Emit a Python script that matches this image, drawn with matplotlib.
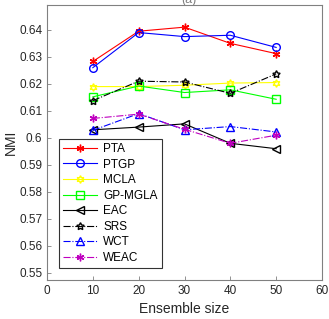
import matplotlib
matplotlib.use("Agg")
import matplotlib.pyplot as plt

plt.rcParams['font.family'] = ['Liberation Sans', 'DejaVu Sans']

sizes = [10, 20, 30, 40, 50]
pta = [0.6283, 0.6395, 0.641, 0.635, 0.6312]
ptgp = [0.626, 0.639, 0.6375, 0.638, 0.6335]
mcla = [0.619, 0.619, 0.6195, 0.6203, 0.6205]
gpmgla = [0.6152, 0.6192, 0.6168, 0.6178, 0.6143]
eac = [0.603, 0.604, 0.6052, 0.598, 0.596]
srs = [0.6138, 0.621, 0.6207, 0.6165, 0.6237]
wct = [0.6028, 0.609, 0.603, 0.6042, 0.6022]
weac = [0.6072, 0.6088, 0.6032, 0.598, 0.601]

series = [
    ("PTA", pta, 'r', '-', (6, 2, 0)),
    ("PTGP", ptgp, 'b', '-', 'o'),
    ("MCLA", mcla, '#ffff00', '-', (6, 1, 0)),
    ("GP-MGLA", gpmgla, '#00ff00', '-', 's'),
    ("EAC", eac, 'k', '-', '<'),
    ("SRS", srs, 'k', '-.', (5, 1, 0)),
    ("WCT", wct, 'b', '-.', '^'),
    ("WEAC", weac, 'm', '-.', (6, 2, 0)),
]

fig = plt.figure(figsize=(3.29, 3.19), dpi=100)
ax = fig.add_axes([47/329, 1-280/319, 275/329, 275/319])
for name, vals, c, ls, mk in series:
    ax.plot(sizes, vals, color=c, linestyle=ls, marker=mk, markersize=5.5,
            markerfacecolor='none', markeredgecolor=c, linewidth=0.8, label=name)

ax.set_xlim(0, 60)
ax.set_ylim(0.5474, 0.6492)
ax.set_xticks([0, 10, 20, 30, 40, 50, 60])
ax.set_yticks([0.55, 0.56, 0.57, 0.58, 0.59, 0.6, 0.61, 0.62, 0.63, 0.64])
ax.set_yticklabels(['0.55', '0.56', '0.57', '0.58', '0.59', '0.6', '0.61', '0.62', '0.63', '0.64'])
gray = '#262626'
for s in ax.spines.values():
    s.set_color('#808080')
ax.tick_params(direction='in', length=3, colors='#808080', labelsize=8.5, width=0.6)
for lab in ax.get_xticklabels() + ax.get_yticklabels():
    lab.set_color(gray)
ax.set_xlabel('Ensemble size', fontsize=10, color=gray, labelpad=4)
ax.set_ylabel('NMI', fontsize=10, color=gray, labelpad=1)
fig.text(0.575, 1.0, '(a)', ha='center', va='center', fontsize=9, color='#808080')

leg = ax.legend(loc='lower left', bbox_to_anchor=(12/275, 12/275), borderaxespad=0,
                fontsize=8.5, frameon=True, fancybox=False, edgecolor='k',
                handlelength=2.9, borderpad=0.35, labelspacing=0.3, handletextpad=0.5)
leg.get_frame().set_linewidth(0.8)

fig.savefig('out.png', dpi=100)
